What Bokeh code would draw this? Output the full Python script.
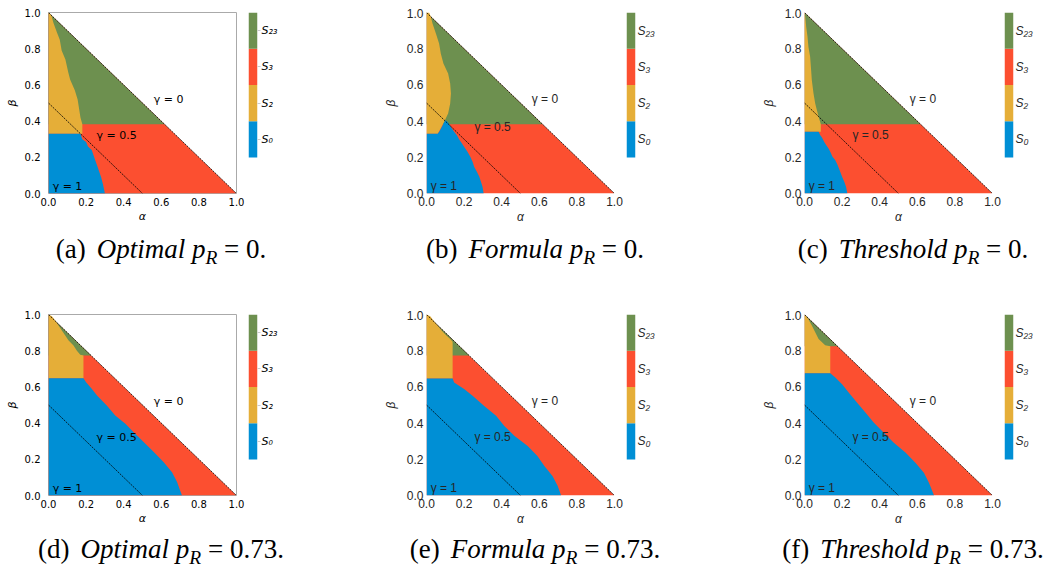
from bokeh.plotting import figure
from bokeh.layouts import row, column
from bokeh.models import Range1d, FixedTicker, Div, Spacer, ColumnDataSource, PrintfTickFormatter
from bokeh.embed import file_html
from bokeh.resources import INLINE
from bokeh.core.properties import value

# ---------------- data ----------------
STATE_LABELS = ["S₀", "S₂", "S₃", "S₂₃"]          # colorbar, bottom to top
STATE_COLORS = ["#008fd5", "#e5ae38", "#fc4f30", "#6d904f"]
TICKS = [0.0, 0.2, 0.4, 0.6, 0.8, 1.0]
GAMMAS = [0.0, 0.5, 1.0]
GAMMA_TEXT = ["γ = 0", "γ = 0.5", "γ = 1"]
DOMAIN_ALPHA = [0.0, 1.0, 0.0]
DOMAIN_BETA = [0.0, 0.0, 1.0]

# (a) Optimal p_R = 0
A_S0_ALPHA = [0.0, 0.0, 0.17, 0.18, 0.20, 0.21, 0.23, 0.24, 0.25, 0.26, 0.27, 0.28, 0.29, 0.30]
A_S0_BETA = [0.0, 0.33, 0.33, 0.30, 0.285, 0.26, 0.24, 0.21, 0.18, 0.15, 0.12, 0.09, 0.05, 0.0]
A_S2_ALPHA = [0.0, 0.18, 0.18, 0.17, 0.155, 0.14, 0.115, 0.105, 0.09, 0.07, 0.06, 0.045, 0.027, 0.015, 0.0]
A_S2_BETA = [0.33, 0.33, 0.383, 0.42, 0.52, 0.57, 0.63, 0.67, 0.74, 0.79, 0.85, 0.89, 0.94, 0.985, 1.0]
A_S23_BETA = 0.383

# (b) Formula p_R = 0
B_S0_ALPHA = [0.0, 0.0, 0.06, 0.07, 0.08, 0.09, 0.10, 0.112, 0.13, 0.147, 0.162, 0.174, 0.186, 0.20,
              0.218, 0.233, 0.245, 0.254, 0.268, 0.281, 0.29, 0.298, 0.304]
B_S0_BETA = [0.0, 0.33, 0.33, 0.345, 0.365, 0.385, 0.405, 0.396, 0.368, 0.341, 0.322, 0.298, 0.28, 0.258,
             0.23, 0.203, 0.175, 0.147, 0.12, 0.092, 0.064, 0.037, 0.0]
B_S2_ALPHA = [0.0, 0.06, 0.085, 0.098, 0.115, 0.126, 0.13, 0.126, 0.115, 0.09, 0.076, 0.067, 0.05, 0.032,
              0.023, 0.014, 0.0]
B_S2_BETA = [0.33, 0.33, 0.378, 0.405, 0.442, 0.497, 0.552, 0.608, 0.663, 0.718, 0.773, 0.829, 0.884, 0.939,
             0.976, 1.0, 1.0]
B_S23_BETA = 0.383

# (c) Threshold p_R = 0
C_S0_ALPHA = [0.0, 0.0, 0.075, 0.084, 0.093, 0.105, 0.116, 0.128, 0.137, 0.149, 0.164, 0.176, 0.187, 0.20,
              0.212, 0.221, 0.228]
C_S0_BETA = [0.0, 0.341, 0.341, 0.322, 0.309, 0.285, 0.267, 0.249, 0.23, 0.203, 0.184, 0.157, 0.129, 0.092,
             0.064, 0.037, 0.0]
C_S2_ALPHA = [0.0, 0.087, 0.087, 0.075, 0.066, 0.057, 0.048, 0.039, 0.034, 0.03, 0.021, 0.016, 0.009, 0.004, 0.0]
C_S2_BETA = [0.341, 0.341, 0.383, 0.424, 0.46, 0.497, 0.552, 0.626, 0.70, 0.755, 0.81, 0.866, 0.921, 0.976, 1.0]
C_S23_BETA = 0.383

# (d) Optimal p_R = 0.73
D_S0_ALPHA = [0.0, 0.0, 0.186, 0.20, 0.231, 0.258, 0.31, 0.355, 0.409, 0.453, 0.506, 0.56, 0.613, 0.657,
              0.684, 0.70, 0.71]
D_S0_BETA = [0.0, 0.648, 0.648, 0.626, 0.589, 0.552, 0.497, 0.442, 0.396, 0.35, 0.295, 0.24, 0.184, 0.129,
             0.074, 0.028, 0.0]
D_S2_ALPHA = [0.0, 0.186, 0.186, 0.169, 0.151, 0.133, 0.107, 0.089, 0.071, 0.053, 0.036, 0.018, 0.0]
D_S2_BETA = [0.648, 0.648, 0.773, 0.777, 0.80, 0.829, 0.856, 0.884, 0.912, 0.939, 0.967, 0.99, 1.0]
D_S23_BETA = 0.773

# (e) Formula p_R = 0.73
E_S0_ALPHA = [0.0, 0.0, 0.139, 0.147, 0.20, 0.245, 0.307, 0.37, 0.414, 0.467, 0.538, 0.59, 0.627, 0.671,
              0.698, 0.716]
E_S0_BETA = [0.0, 0.647, 0.647, 0.625, 0.588, 0.551, 0.495, 0.44, 0.384, 0.33, 0.274, 0.218, 0.163, 0.107,
             0.052, 0.0]
E_S2_ALPHA = [0.0, 0.139, 0.139, 0.126, 0.103, 0.08, 0.059, 0.037, 0.02, 0.0]
E_S2_BETA = [0.647, 0.647, 0.85, 0.865, 0.887, 0.911, 0.939, 0.967, 0.99, 1.0]
E_S23_BETA = 0.773

# (f) Threshold p_R = 0.73
F_S0_ALPHA = [0.0, 0.0, 0.137, 0.164, 0.20, 0.235, 0.279, 0.324, 0.368, 0.422, 0.475, 0.537, 0.59, 0.635,
              0.662, 0.689]
F_S0_BETA = [0.0, 0.675, 0.675, 0.652, 0.615, 0.569, 0.514, 0.458, 0.403, 0.347, 0.292, 0.237, 0.181, 0.126,
             0.07, 0.0]
F_S2_ALPHA = [0.0, 0.137, 0.137, 0.11, 0.075, 0.057, 0.039, 0.02, 0.0]
F_S2_BETA = [0.675, 0.675, 0.824, 0.83, 0.865, 0.902, 0.939, 0.975, 1.0]
F_S23_BETA = 0.824

CAPTION_TAGS = ["(a)", "(b)", "(c)", "(d)", "(e)", "(f)"]
CAPTION_METHODS = ["Optimal", "Formula", "Threshold", "Optimal", "Formula", "Threshold"]
CAPTION_PR = ["0", "0", "0", "0.73", "0.73", "0.73"]

# ---------------- layout constants ----------------
PAGE_PAD = 8
LEFT_B = 48
PANEL_W = LEFT_B + 188 + 12
CBAR_W = [130, 130, 49]
ROW_H = [222, 220]
TOP = [4, 4]
BOTTOM = [37, 35]
FRAME_H = [ROW_H[r] - TOP[r] - BOTTOM[r] for r in range(2)]
BAR_PX = 145

GAMMA_TX = [0.56, 0.255, 0.022]
GAMMA_TY = [0.52, 0.322, 0.04]


def style_of(mpl):
    if mpl:
        return dict(font="DejaVu Sans", tick_size="10px", color="black", lab_size="11px",
                    gsize="11px", cbsize="11px")
    return dict(font="Liberation Sans", tick_size="12px", color="#262626", lab_size="12px",
                gsize="12px", cbsize="12px")


def make_panel(s0a, s0b, s2a, s2b, s23b, mpl, r, g05y):
    st = style_of(mpl)
    p = figure(width=PANEL_W, height=ROW_H[r], x_range=Range1d(0, 1), y_range=Range1d(0, 1),
               output_backend="svg", toolbar_location=None,
               min_border_left=LEFT_B, min_border_right=12, min_border_top=TOP[r],
               min_border_bottom=BOTTOM[r])
    p.grid.visible = False
    p.outline_line_color = "#aaaaaa" if mpl else None
    p.background_fill_color = "white"

    # S3 fills the whole feasible triangle, other states drawn on top
    p.patch(DOMAIN_ALPHA, DOMAIN_BETA, fill_color=STATE_COLORS[2], line_color=None)
    p.patch([0.0, 1.0 - s23b, 0.0], [s23b, s23b, 1.0], fill_color=STATE_COLORS[3], line_color=None)
    p.patch(s2a, s2b, fill_color=STATE_COLORS[1], line_color=None)
    p.patch(s0a, s0b, fill_color=STATE_COLORS[0], line_color=None)

    # gamma iso-lines alpha + beta = 1 - gamma
    p.segment(x0=[0.0] * len(GAMMAS), y0=[1.0 - g for g in GAMMAS],
              x1=[1.0 - g for g in GAMMAS], y1=[0.0] * len(GAMMAS),
              line_color="black", line_width=0.8, line_dash="2 1")

    ty = list(GAMMA_TY)
    ty[1] = g05y
    src = ColumnDataSource(dict(x=GAMMA_TX, y=ty, t=GAMMA_TEXT))
    p.text(x="x", y="y", text="t", source=src, text_font=value(st["font"]),
           text_font_size=st["gsize"], text_color=st["color"], text_align="left",
           text_baseline="middle")

    for ax in (p.xaxis[0], p.yaxis[0]):
        ax.ticker = FixedTicker(ticks=TICKS)
        ax.formatter = PrintfTickFormatter(format="%.1f")
        ax.major_tick_in = 0
        ax.major_tick_out = 0
        ax.minor_tick_in = 0
        ax.minor_tick_out = 0
        ax.major_tick_line_color = None
        ax.minor_tick_line_color = None
        ax.axis_line_color = None
        ax.major_label_text_font = st["font"]
        ax.major_label_text_font_size = st["tick_size"]
        ax.major_label_text_color = st["color"]
        ax.axis_label_text_font = st["font"]
        ax.axis_label_text_font_size = st["lab_size"]
        ax.axis_label_text_font_style = "italic"
        ax.axis_label_text_color = st["color"]
    p.xaxis.axis_label = "α"
    p.yaxis.axis_label = "β"
    p.xaxis.major_label_standoff = 4 if mpl else 3
    p.yaxis.major_label_standoff = 8 if mpl else 3
    p.xaxis.axis_label_standoff = 1
    p.yaxis.axis_label_standoff = 3 if mpl else 6
    return p


def make_cbar(mpl, r, c):
    st = style_of(mpl)
    w = CBAR_W[c]
    n = len(STATE_LABELS)
    # frame is as tall as the panel frame; the bar fills its upper BAR_PX pixels
    y0 = n - n * FRAME_H[r] / BAR_PX
    cb = figure(width=w, height=ROW_H[r], x_range=Range1d(0, 1), y_range=Range1d(y0, n),
                output_backend="svg", toolbar_location=None, x_axis_location=None,
                y_axis_location="right", min_border_left=0, min_border_right=w - 9,
                min_border_top=TOP[r], min_border_bottom=BOTTOM[r])
    cb.grid.visible = False
    cb.outline_line_color = None
    cb.quad(left=0, right=1, bottom=list(range(n)), top=[i + 1 for i in range(n)],
            fill_color=STATE_COLORS, line_color=None)
    ticks = [i + 0.5 for i in range(n)]
    ax = cb.yaxis[0]
    ax.ticker = FixedTicker(ticks=ticks)
    ax.major_label_overrides = {t: lab for t, lab in zip(ticks, STATE_LABELS)}
    ax.axis_line_color = None
    ax.minor_tick_line_color = None
    ax.major_tick_in = 0
    ax.major_tick_out = 3 if mpl else 0
    ax.major_tick_line_color = "#cccccc" if mpl else None
    ax.major_label_standoff = 1 if mpl else 2
    ax.major_label_text_font = st["font"]
    ax.major_label_text_font_size = st["cbsize"]
    ax.major_label_text_font_style = "italic"
    ax.major_label_text_color = st["color"]
    return cb


def caption(i, width, height, top):
    html = (f'<div style="width:{width}px;margin-top:{top}px;white-space:nowrap;text-align:center;'
            f'line-height:30px;font-family:\'Liberation Serif\';font-size:27px;color:black">'
            f'{CAPTION_TAGS[i]}<span style="display:inline-block;width:11px"></span>'
            f'<i>{CAPTION_METHODS[i]}</i> <i>p</i>'
            f'<span style="font-size:72%;vertical-align:-0.3em"><i>R</i></span> = {CAPTION_PR[i]}.</div>')
    return Div(text=html, width=width, height=height, margin=0,
               styles={"font-family": "Liberation Serif", "font-size": "27px"})


panels_data = [
    (A_S0_ALPHA, A_S0_BETA, A_S2_ALPHA, A_S2_BETA, A_S23_BETA, True, 0.322),
    (B_S0_ALPHA, B_S0_BETA, B_S2_ALPHA, B_S2_BETA, B_S23_BETA, False, 0.368),
    (C_S0_ALPHA, C_S0_BETA, C_S2_ALPHA, C_S2_BETA, C_S23_BETA, False, 0.322),
    (D_S0_ALPHA, D_S0_BETA, D_S2_ALPHA, D_S2_BETA, D_S23_BETA, True, 0.322),
    (E_S0_ALPHA, E_S0_BETA, E_S2_ALPHA, E_S2_BETA, E_S23_BETA, False, 0.322),
    (F_S0_ALPHA, F_S0_BETA, F_S2_ALPHA, F_S2_BETA, F_S23_BETA, False, 0.322),
]

rows = []
for r in range(2):
    items = []
    for c in range(3):
        s0a, s0b, s2a, s2b, s23b, mpl, g05y = panels_data[3 * r + c]
        items.append(make_panel(s0a, s0b, s2a, s2b, s23b, mpl, r, g05y))
        items.append(make_cbar(mpl, r, c))
    rows.append(row(*items, spacing=0))

cap_h = [80, 29]
cap_top = [3, -3]
cap_rows = []
for r in range(2):
    h = cap_h[r]
    cap_rows.append(row(Spacer(width=PAGE_PAD, height=h, margin=0),
                        caption(3 * r, 306, h, cap_top[r]),
                        caption(3 * r + 1, 442, h, cap_top[r]),
                        Spacer(width=17, height=h, margin=0),
                        caption(3 * r + 2, 280, h, cap_top[r]), spacing=0))

layout = column(Spacer(width=10, height=PAGE_PAD, margin=0), rows[0], cap_rows[0], rows[1], cap_rows[1],
                spacing=0)

open("out.html", "w").write(file_html(layout, INLINE))
